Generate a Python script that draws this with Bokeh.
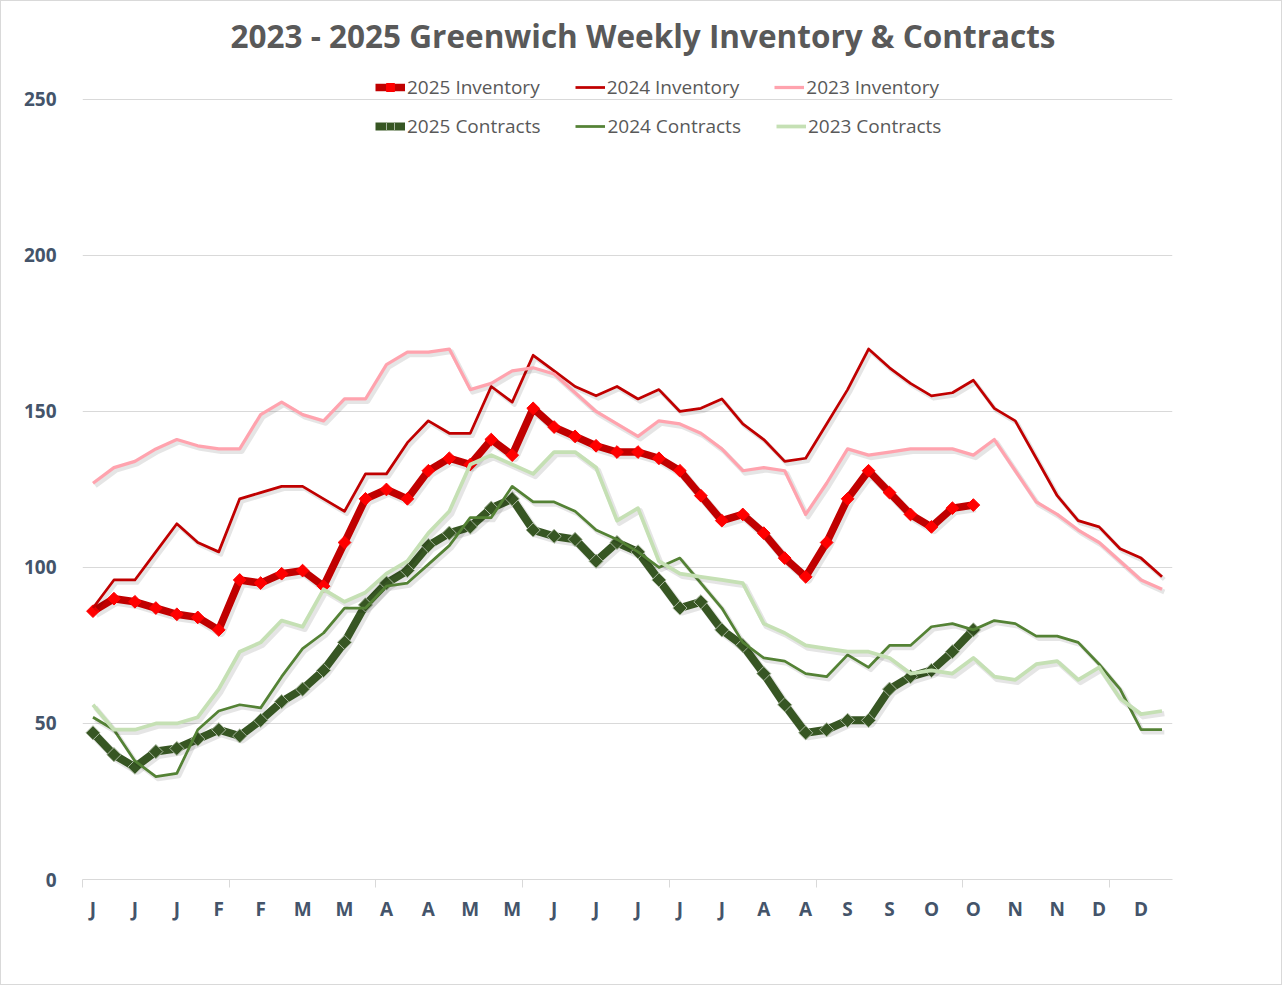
import math
from bokeh.plotting import figure
from bokeh.models import Range1d, FixedTicker, Legend, LegendItem, Label, ColumnDataSource
from bokeh.embed import file_html
from bokeh.resources import INLINE
from bokeh.transform import dodge

# ---------------- data ----------------
weeks = list(range(52))
tick_positions = list(range(0, 52, 2))
tick_labels = ["J", "J", "J", "F", "F", "M", "M", "A", "A", "M", "M", "J", "J",
               "J", "J", "J", "A", "A", "S", "S", "O", "O", "N", "N", "D", "D"]
month_breaks = [-0.5, 6.5, 13.5, 20.5, 27.5, 34.5, 41.5, 48.5]
y_ticks = [0, 50, 100, 150, 200, 250]

inv_2025 = [86, 90, 89, 87, 85, 84, 80, 96, 95, 98, 99, 94, 108, 122, 125, 122,
            131, 135, 133, 141, 136, 151, 145, 142, 139, 137, 137, 135, 131, 123,
            115, 117, 111, 103, 97, 108, 122, 131, 124, 117, 113, 119, 120]
inv_2024 = [87, 96, 96, 105, 114, 108, 105, 122, 124, 126, 126, 122, 118, 130, 130,
            140, 147, 143, 143, 158, 153, 168, 163, 158, 155, 158, 154, 157, 150, 151,
            154, 146, 141, 134, 135, 146, 157, 170, 164, 159, 155, 156, 160, 151, 147,
            135, 123, 115, 113, 106, 103, 97]
inv_2023 = [127, 132, 134, 138, 141, 139, 138, 138, 149, 153, 149, 147, 154, 154, 165,
            169, 169, 170, 157, 159, 163, 164, 162, 156, 150, 146, 142, 147, 146, 143,
            138, 131, 132, 131, 117, 127, 138, 136, 137, 138, 138, 138, 136, 141, 131,
            121, 117, 112, 108, 102, 96, 93]
con_2025 = [47, 40, 36, 41, 42, 45, 48, 46, 51, 57, 61, 67, 76, 88, 95, 99, 107, 111,
            113, 119, 122, 112, 110, 109, 102, 108, 105, 96, 87, 89, 80, 75, 66, 56, 47,
            48, 51, 51, 61, 65, 67, 73, 80]
con_2024 = [52, 48, 38, 33, 34, 48, 54, 56, 55, 65, 74, 79, 87, 87, 94, 95, 101, 107,
            116, 116, 126, 121, 121, 118, 112, 109, 105, 100, 103, 95, 87, 76, 71, 70,
            66, 65, 72, 68, 75, 75, 81, 82, 80, 83, 82, 78, 78, 76, 69, 61, 48, 48]
con_2023 = [56, 48, 48, 50, 50, 52, 61, 73, 76, 83, 81, 93, 89, 92, 98, 102, 111, 118,
            133, 136, 133, 130, 137, 137, 132, 115, 119, 102, 98, 97, 96, 95, 82, 79, 75,
            74, 73, 73, 71, 66, 67, 66, 71, 65, 64, 69, 70, 64, 68, 58, 53, 54]

title_text = "2023 - 2025 Greenwich Weekly Inventory & Contracts"

# ---------------- figure ----------------
# y range extends above 250 so that title and legend sit inside the frame
p = figure(width=1282, height=985, output_backend="svg", toolbar_location=None,
           x_range=Range1d(-0.5, 51.5), y_range=Range1d(0, 278.5),
           min_border_left=81, min_border_right=111, min_border_top=9,
           min_border_bottom=107, background_fill_color="white",
           border_fill_color="white",
           styles={"border": "1px solid #D9D9D9"})
p.outline_line_color = None
p.xgrid.grid_line_color = None
p.ygrid.grid_line_color = "#D9D9D9"
p.ygrid.grid_line_width = 1
p.ygrid.ticker = FixedTicker(ticks=y_ticks)

xa = p.xaxis[0]
xa.ticker = FixedTicker(ticks=tick_positions, minor_ticks=month_breaks)
xa.major_label_overrides = {t: l for t, l in zip(tick_positions, tick_labels)}
xa.axis_line_color = "#D9D9D9"
xa.major_tick_line_color = None
xa.major_tick_out = 0
xa.major_tick_in = 0
xa.minor_tick_line_color = "#D9D9D9"
xa.minor_tick_out = 8
xa.minor_tick_in = 0
xa.major_label_text_font = "Open Sans"
xa.major_label_text_font_style = "bold"
xa.major_label_text_font_size = "19px"
xa.major_label_text_color = "#44546A"
xa.major_label_standoff = 8

ya = p.yaxis[0]
ya.ticker = FixedTicker(ticks=y_ticks)
ya.axis_line_color = None
ya.major_tick_line_color = None
ya.minor_tick_line_color = None
ya.major_label_text_font = "Open Sans"
ya.major_label_text_font_style = "bold"
ya.major_label_text_font_size = "19px"
ya.major_label_text_color = "#44546A"
ya.major_label_standoff = 20

# ---------------- series ----------------
series = [
    ("2025 Inventory", inv_2025, "#C00000", 7.5, "#FF0000", "#FF0000", 9),
    ("2024 Inventory", inv_2024, "#C00000", 2.75, None, None, 0),
    ("2023 Inventory", inv_2023, "#FFA3AE", 3.25, None, None, 0),
    ("2025 Contracts", con_2025, "#375623", 8, "#375623", "#A9B79F", 10),
    ("2024 Contracts", con_2024, "#548235", 2.75, None, None, 0),
    ("2023 Contracts", con_2023, "#C5E0B4", 3.75, None, None, 0),
]

items = []
for name, vals, color, width, mfill, medge, msize in series:
    src = ColumnDataSource(dict(x=weeks[:len(vals)], y=vals))
    # soft drop shadow under each line
    p.line(x=dodge("x", 0.11), y=dodge("y", -0.85), source=src,
           line_color="#000000", line_alpha=0.1, line_width=width + 1.5,
           line_join="round")
    rends = []
    ln = p.line("x", "y", source=src, line_color=color, line_width=width,
                line_join="round")
    rends.append(ln)
    if msize:
        sc = p.scatter("x", "y", source=src, marker="square", angle=math.pi / 4,
                       size=msize, fill_color=mfill, line_color=medge,
                       line_width=1)
        rends.append(sc)
    items.append(LegendItem(label=name, renderers=rends))


def make_legend(its, loc):
    return Legend(items=its, location=loc, orientation="horizontal",
                  spacing=35, glyph_width=30, glyph_height=20,
                  label_height=20, label_standoff=2, padding=0, margin=0,
                  border_line_color=None, background_fill_alpha=0,
                  label_text_font="Open Sans", label_text_font_size="19px",
                  label_text_color="#595959")


p.add_layout(make_legend(items[:3], (293, 779)), "center")
p.add_layout(make_legend(items[3:], (293, 740)), "center")

title = Label(x=26.24, y=270.5, text=title_text, text_align="center",
              text_baseline="middle", text_font="Open Sans",
              text_font_style="bold", text_font_size="31.5px",
              text_color="#595959")
p.add_layout(title)

open("out.html", "w").write(file_html(p, INLINE))
